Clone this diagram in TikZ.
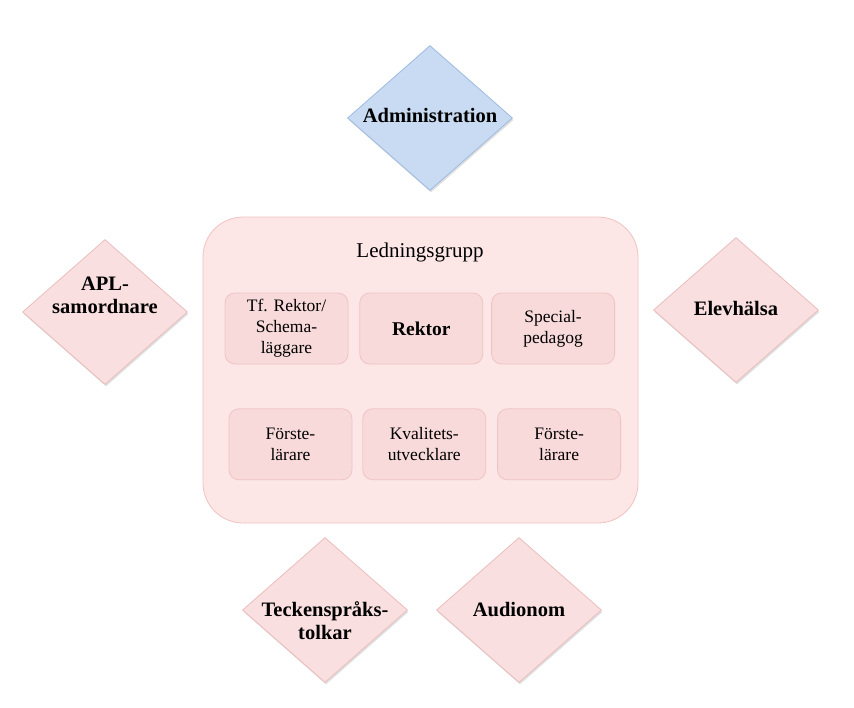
\documentclass[tikz,border=0pt]{standalone}
\usepackage{fontspec}
\setmainfont{Liberation Serif}
\usepackage{xcolor}
\usetikzlibrary{positioning,shapes.geometric,shadows}
\definecolor{admfill}{HTML}{C9DBF2}
\definecolor{admline}{HTML}{9DBAE0}
\definecolor{diafill}{HTML}{F9DFDF}
\definecolor{dialine}{HTML}{EBBDBD}
\definecolor{grpfill}{HTML}{FCE6E6}
\definecolor{grpline}{HTML}{F2C2C2}
\definecolor{memfill}{HTML}{F8DADA}
\definecolor{memline}{HTML}{F0C4C4}

\begin{document}
\begin{tikzpicture}[
    x=1pt, y=-1pt,
    node distance=10pt and 10pt,
    dia/.style={diamond, draw=dialine, fill=diafill, line width=0.8pt, minimum width=165pt, minimum height=145pt, inner sep=0pt,
      drop shadow={shadow xshift=1pt, shadow yshift=-2pt, opacity=0.25, fill=black!50}},
    admdia/.style={dia, draw=admline, fill=admfill},
    dialabel/.style={font=\fontsize{20.5}{23}\selectfont\bfseries, align=center, inner sep=0pt},
    group/.style={draw=grpline, fill=grpfill, line width=0.8pt, rounded corners=40pt, minimum width=435pt, minimum height=306pt},
    title/.style={font=\fontsize{21}{24}\selectfont, inner sep=0pt},
    member/.style={draw=memline, fill=memfill, line width=0.8pt, rounded corners=10pt, minimum width=123pt, minimum height=71pt,
      align=center, inner sep=2pt, font=\fontsize{17.5}{21}\selectfont}
]
\useasboundingbox (0,0) rectangle (854,707);

% outer diamonds
\node[admdia, label={[dialabel, yshift=3pt]center:Administration}] (adm) at (430,118) {};
\node[dia, label={[dialabel, yshift=17pt]center:{APL-\\samordnare}}] (apl) at (105,312) {};
\node[dia, label={[dialabel, yshift=2pt]center:Elevhälsa}] (elev) at (736,310) {};
\node[dia, label={[dialabel, yshift=-11pt]center:{Teckenspråks-\\tolkar}}] (teck) at (325,610) {};
\node[dia, label={[dialabel]center:Audionom}] (audio) at (519,610) {};

% ledningsgrupp
\node[group] (lg) at (420.5,370) {};
\node[title] (lgtitle) at (420,252) {Ledningsgrupp};

\node[member] (tf) at (286.5,328.5) {Tf. Rektor/\\Schema-\\läggare};
\node[member, right=11pt of tf, font=\fontsize{19.5}{22}\selectfont\bfseries] (rektor) {Rektor};
\node[member, right=8pt of rektor] (spec) {Special-\\pedagog};
\node[member, below=44pt of tf, xshift=4pt] (forste1) {Förste-\\lärare};
\node[member, right=10pt of forste1] (kval) {Kvalitets-\\utvecklare};
\node[member, right=11pt of kval] (forste2) {Förste-\\lärare};
\end{tikzpicture}
\end{document}
